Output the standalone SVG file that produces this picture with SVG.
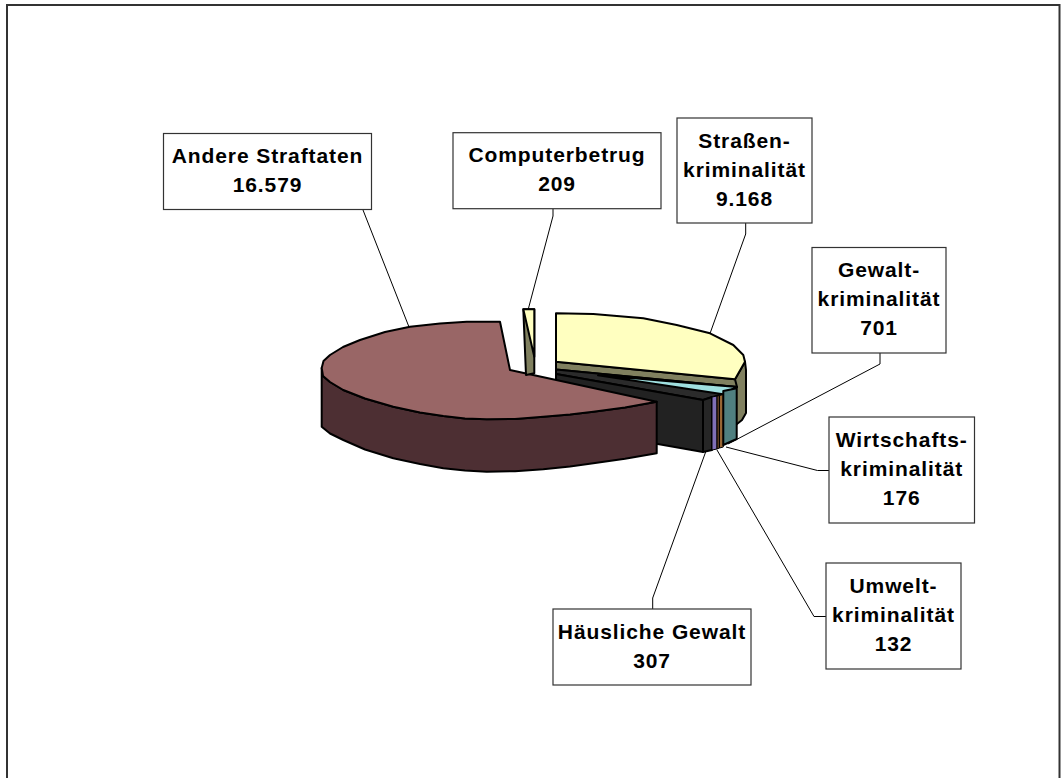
<svg xmlns="http://www.w3.org/2000/svg" width="1061" height="778" viewBox="0 0 1061 778">
<style>
.lbl{fill:#fff;stroke:#333;stroke-width:1.2}
.t{font-family:"Liberation Sans",Arial,sans-serif;font-weight:bold;font-size:21px;letter-spacing:0.9px;fill:#000;text-anchor:middle}
.lead{fill:none;stroke:#000;stroke-width:1}
.pie{stroke:#000;stroke-width:2;stroke-linejoin:round}
</style>
<rect x="7" y="5" width="1052.5" height="800" fill="#fff" stroke="#333" stroke-width="2"/>
<g id="pie">
<path class="pie" fill="#80805F" d="M735,379.3 L745,361.7 L746,370 L746,413 L742,420 L737,424 L723,430 L723,390 Z"/>
<path class="pie" fill="#80805F" d="M556,361.7 L735,379.3 L737,387 L556,369.5 Z"/>
<path class="pie" fill="#FFFFC0" d="M556,313.3 L593.3,314 L643.3,318.3 L676.7,325 L710,333.3 L733.3,345 L743.3,355 L745,361.7 L735,379.3 L556,361.7 Z"/>
<path class="pie" fill="#2B2B2B" d="M556,369.5 L737,387 L723,394 L703,400 L556,374 Z"/>
<path class="pie" fill="#A0E0E0" stroke-width="1" d="M598,375.3 L737,387 L723,394.3 Z"/>
<path class="pie" fill="#222" d="M556,374 L703,400 L703,452 L556,426 Z"/>
<path class="pie" fill="#262626" d="M703,400 L712,397 L712,450 L703,452 Z"/>
<path fill="#8070B8" stroke="#000" stroke-width="1" d="M712,397 L717,396 L717,449 L712,450 Z"/>
<path fill="#5A3A20" stroke="#000" stroke-width="1" d="M717,396 L719.5,395.5 L719.5,448 L717,449 Z"/>
<path fill="#996633" stroke="#000" stroke-width="1" d="M719.5,395.5 L723.3,394.5 L723.3,447 L719.5,448 Z"/>
<path class="pie" fill="#508080" d="M723.3,391 L736.7,388.3 L736.7,439 L723.3,445 Z"/>
<path class="pie" fill="#4D2F33" d="M321.7,368 L323,376 L330,382 L343.3,390 L365,398.5 L393.3,406.7 L420,412.5 L443.3,416 L465,418.5 L486.7,419.3 L515,419 L543.3,416.7 L570,414.5 L593.3,411.7 L625,407.5 L656.7,401.7 L656.7,453.3 L625,458.7 L593.3,463.3 L570,466.5 L543.3,469.3 L515,471.2 L486.7,471.7 L465,470.5 L443.3,468.3 L420,464 L393.3,458.3 L365,449.5 L343.3,440 L330,433.5 L321.7,426.7 Z"/>
<path class="pie" fill="#996666" d="M510,370 L500,321.7 L466.7,321.7 L440,323.5 L410,326.7 L385,332 L360,340 L343,347 L330,355 L323.5,361 L321.7,368 L323,376 L330,382 L343.3,390 L365,398.5 L393.3,406.7 L420,412.5 L443.3,416 L465,418.5 L486.7,419.3 L515,419 L543.3,416.7 L570,414.5 L593.3,411.7 L625,407.5 L656.7,401.7 Z"/>
<path class="pie" fill="#80805F" d="M523.3,309.3 L534.3,309.3 L534.3,373.3 L526,375 Z"/>
<path class="pie" fill="#FFFFC0" stroke-width="1.5" d="M523.3,309.3 L534.3,309.3 L534.3,356.7 Z"/>
</g>
<g id="connectors">
<polyline class="lead" points="363,210 409,327"/>
<polyline class="lead" points="553,209 553,216 528.3,309"/>
<polyline class="lead" points="745.7,223 745.7,234 710,333.5"/>
<polyline class="lead" points="880,353 880,364 728,444"/>
<polyline class="lead" points="829,470.5 817.5,470.5 726,447"/>
<polyline class="lead" points="826,616.5 814,616.5 717,450"/>
<polyline class="lead" points="652.7,609 652.7,598 706,451"/>
</g>
<g id="andere">
<rect class="lbl" x="163.5" y="133.5" width="208" height="76"/>
<text class="t" x="267.5" y="163">Andere Straftaten</text>
<text class="t" x="267.5" y="192">16.579</text>
</g>
<g id="computerbetrug">
<rect class="lbl" x="453" y="132.7" width="208" height="76"/>
<text class="t" x="557" y="162.2">Computerbetrug</text>
<text class="t" x="557" y="191.2">209</text>
</g>
<g id="strassen">
<rect class="lbl" x="677" y="118" width="135" height="105"/>
<text class="t" x="744.5" y="147.5">Straßen-</text>
<text class="t" x="744.5" y="176.5">kriminalität</text>
<text class="t" x="744.5" y="205.5">9.168</text>
</g>
<g id="gewalt">
<rect class="lbl" x="812" y="247.5" width="134" height="105.5"/>
<text class="t" x="879" y="277">Gewalt-</text>
<text class="t" x="879" y="306">kriminalität</text>
<text class="t" x="879" y="335">701</text>
</g>
<g id="wirtschaft">
<rect class="lbl" x="829" y="417" width="145.5" height="106"/>
<text class="t" x="901.7" y="446.5">Wirtschafts-</text>
<text class="t" x="901.7" y="475.5">kriminalität</text>
<text class="t" x="901.7" y="504.5">176</text>
</g>
<g id="umwelt">
<rect class="lbl" x="826" y="563" width="135" height="106"/>
<text class="t" x="893.5" y="592.5">Umwelt-</text>
<text class="t" x="893.5" y="621.5">kriminalität</text>
<text class="t" x="893.5" y="650.5">132</text>
</g>
<g id="haeusliche">
<rect class="lbl" x="553" y="609" width="198" height="76"/>
<text class="t" x="652" y="638.5">Häusliche Gewalt</text>
<text class="t" x="652" y="667.5">307</text>
</g>
</svg>
